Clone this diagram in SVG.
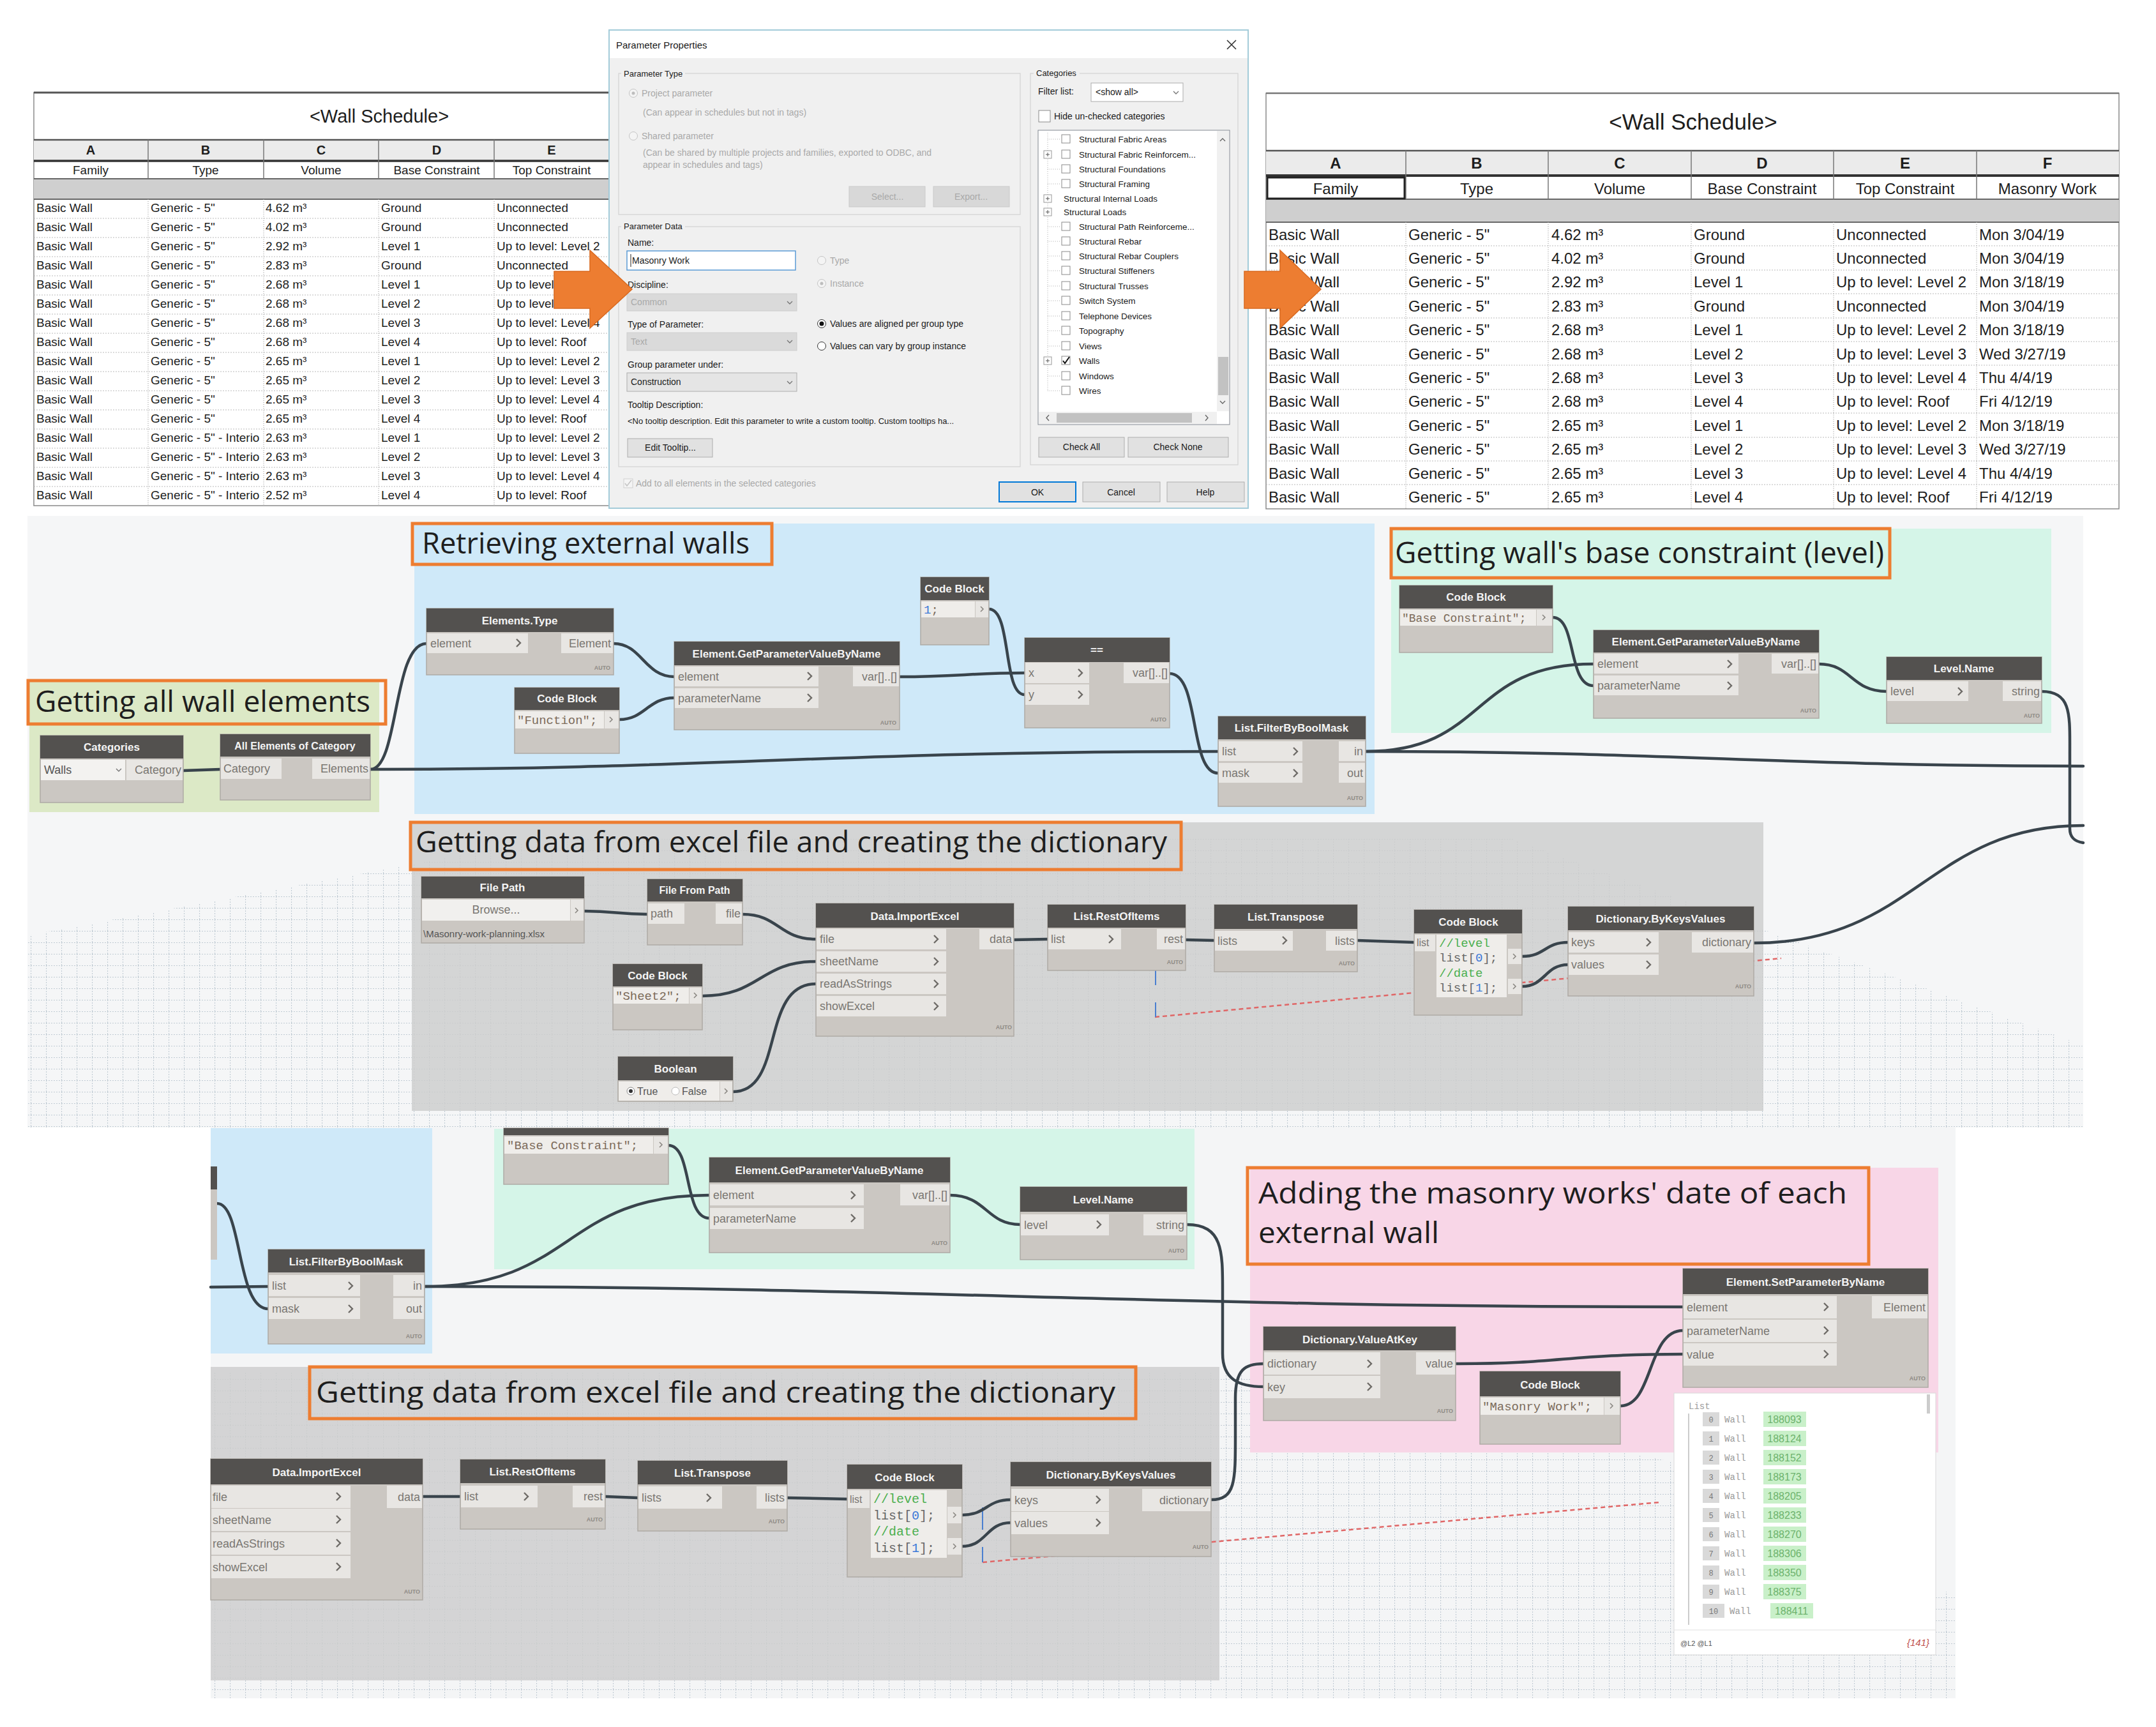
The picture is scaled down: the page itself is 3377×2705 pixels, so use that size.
<svg xmlns="http://www.w3.org/2000/svg" width="3377" height="2705" viewBox="0 0 3377 2705">
<defs>
<style>
.lt{font-family:"Liberation Sans",Arial,sans-serif;font-size:19px;fill:#1d1d1d}
.rt{font-family:"Liberation Sans",Arial,sans-serif;font-size:24px;fill:#1d1d1d}
.th{font-weight:bold;text-anchor:middle}
.tc{text-anchor:middle}
.dl{font-family:"Liberation Sans",Arial,sans-serif;font-size:14px;fill:#1a1a1a}
.dd{fill:#a9a9a9}
.btn{fill:#e1e1e1;stroke:#adadad;stroke-width:1}
.btnd{fill:#d8d8d8;stroke:#cacaca;stroke-width:1}
.gb{fill:none;stroke:#d2d2d2;stroke-width:1.2}
.cb{fill:#fff;stroke:#8a8a8a;stroke-width:1}
.sep{stroke:#b9b9b9;stroke-width:1.2;stroke-dasharray:2 2}
.vsep{stroke:#a6a6a6;stroke-width:1.2;stroke-dasharray:1 2}
.gt{font-family:"Open Sans","Liberation Sans",sans-serif;font-size:46px;fill:#1e1e1e}
.tbx{fill:none;stroke:#ED7D31;stroke-width:5}
.nb{fill:#cbc7c2;stroke:#aeaaa5;stroke-width:1.5}
.nh{fill:#53514f}
.nt{font-family:"Liberation Sans",Arial,sans-serif;font-weight:bold;font-size:17px;fill:#f4f4f4;text-anchor:middle}
.pb{fill:#e8e6e3}
.pl{font-family:"Liberation Sans",Arial,sans-serif;font-size:18px;fill:#7a7772}
.pr{font-family:"Liberation Sans",Arial,sans-serif;font-size:18px;fill:#7a7772;text-anchor:end}
.au{font-family:"Liberation Sans",Arial,sans-serif;font-size:9px;font-weight:bold;fill:#8f8b86;text-anchor:end}
.cbg{fill:#efedea}
.cd{font-family:"Liberation Mono","DejaVu Sans Mono",monospace;font-size:19px;fill:#7c6b5a}
.cm{fill:#4caf50}
.nm{fill:#3b78d8}
.w{fill:none;stroke:#39444c;stroke-width:4.5;stroke-linecap:round}
.wm{font-family:"Liberation Mono",monospace;font-size:14px;fill:#9a9a9a}
.wid{font-family:"Liberation Sans",Arial,sans-serif;font-size:16px;fill:#6db36d;text-anchor:middle}
.arrow{fill:#ED7D31;stroke:#d9691f;stroke-width:1.5}
</style>
<path id="cv" d="M-3,-6 L3,0 L-3,6" fill="none" stroke="#6e6b67" stroke-width="2.4"/>
<path id="cv2" d="M-2,-4 L2,0 L-2,4" fill="none" stroke="#8a8782" stroke-width="1.6"/>
<path id="dn" d="M-4,-2 L0,2 L4,-2" fill="none" stroke="#777" stroke-width="1.4"/>
<pattern id="gp" patternUnits="userSpaceOnUse" width="24" height="18">
<path d="M0 0.5H24M0.5 0V18" stroke="#a9b8c4" stroke-width="1.2" stroke-dasharray="2 2" fill="none"/>
</pattern>
</defs>
<rect x="0" y="0" width="3377" height="2705" fill="#ffffff"/>

<!-- LEFT SCHEDULE -->
<g id="left-schedule">
<rect x="53" y="145" width="901" height="647" fill="#fff" stroke="#8a8a8a" stroke-width="1.5"/>
<line x1="53" y1="145" x2="954" y2="145" stroke="#555" stroke-width="3"/>
<text class="lt tc" x="594" y="192" style="font-size:29px">&lt;Wall Schedule&gt;</text>
<rect x="53" y="219" width="901" height="33" fill="#ebebeb"/>
<line x1="53" y1="219" x2="954" y2="219" stroke="#555" stroke-width="2.5"/>
<line x1="53" y1="252" x2="954" y2="252" stroke="#333" stroke-width="3.5"/>
<rect x="53" y="280" width="901" height="32" fill="#cfcfcf"/>
<line x1="53" y1="280" x2="954" y2="280" stroke="#666" stroke-width="2"/>
<line x1="53" y1="312" x2="954" y2="312" stroke="#666" stroke-width="2"/>
<g stroke="#777" stroke-width="1.5">
<line x1="232" y1="219" x2="232" y2="280"/><line x1="413" y1="219" x2="413" y2="280"/><line x1="593" y1="219" x2="593" y2="280"/><line x1="774" y1="219" x2="774" y2="280"/>
</g>
<g class="vsep">
<line x1="232" y1="312" x2="232" y2="792"/><line x1="413" y1="312" x2="413" y2="792"/><line x1="593" y1="312" x2="593" y2="792"/><line x1="774" y1="312" x2="774" y2="792"/>
</g>
<g class="sep">
<line x1="53" y1="342" x2="954" y2="342"/><line x1="53" y1="372" x2="954" y2="372"/><line x1="53" y1="402" x2="954" y2="402"/><line x1="53" y1="432" x2="954" y2="432"/><line x1="53" y1="462" x2="954" y2="462"/><line x1="53" y1="492" x2="954" y2="492"/><line x1="53" y1="522" x2="954" y2="522"/><line x1="53" y1="552" x2="954" y2="552"/><line x1="53" y1="582" x2="954" y2="582"/><line x1="53" y1="612" x2="954" y2="612"/><line x1="53" y1="642" x2="954" y2="642"/><line x1="53" y1="672" x2="954" y2="672"/><line x1="53" y1="702" x2="954" y2="702"/><line x1="53" y1="732" x2="954" y2="732"/><line x1="53" y1="762" x2="954" y2="762"/>
</g>
<g class="lt th" style="font-size:20px">
<text x="142" y="242">A</text><text x="322" y="242">B</text><text x="503" y="242">C</text><text x="684" y="242">D</text><text x="864" y="242">E</text>
</g>
<g class="lt tc">
<text x="142" y="273">Family</text><text x="322" y="273">Type</text><text x="503" y="273">Volume</text><text x="684" y="273">Base Constraint</text><text x="864" y="273">Top Constraint</text>
</g>
<g class="lt">
<text x="57" y="332">Basic Wall</text><text x="236" y="332">Generic - 5"</text><text x="416" y="332">4.62 m³</text><text x="597" y="332">Ground</text><text x="778" y="332">Unconnected</text>
<text x="57" y="362">Basic Wall</text><text x="236" y="362">Generic - 5"</text><text x="416" y="362">4.02 m³</text><text x="597" y="362">Ground</text><text x="778" y="362">Unconnected</text>
<text x="57" y="392">Basic Wall</text><text x="236" y="392">Generic - 5"</text><text x="416" y="392">2.92 m³</text><text x="597" y="392">Level 1</text><text x="778" y="392">Up to level: Level 2</text>
<text x="57" y="422">Basic Wall</text><text x="236" y="422">Generic - 5"</text><text x="416" y="422">2.83 m³</text><text x="597" y="422">Ground</text><text x="778" y="422">Unconnected</text>
<text x="57" y="452">Basic Wall</text><text x="236" y="452">Generic - 5"</text><text x="416" y="452">2.68 m³</text><text x="597" y="452">Level 1</text><text x="778" y="452">Up to level: Level 2</text>
<text x="57" y="482">Basic Wall</text><text x="236" y="482">Generic - 5"</text><text x="416" y="482">2.68 m³</text><text x="597" y="482">Level 2</text><text x="778" y="482">Up to level: Level 3</text>
<text x="57" y="512">Basic Wall</text><text x="236" y="512">Generic - 5"</text><text x="416" y="512">2.68 m³</text><text x="597" y="512">Level 3</text><text x="778" y="512">Up to level: Level 4</text>
<text x="57" y="542">Basic Wall</text><text x="236" y="542">Generic - 5"</text><text x="416" y="542">2.68 m³</text><text x="597" y="542">Level 4</text><text x="778" y="542">Up to level: Roof</text>
<text x="57" y="572">Basic Wall</text><text x="236" y="572">Generic - 5"</text><text x="416" y="572">2.65 m³</text><text x="597" y="572">Level 1</text><text x="778" y="572">Up to level: Level 2</text>
<text x="57" y="602">Basic Wall</text><text x="236" y="602">Generic - 5"</text><text x="416" y="602">2.65 m³</text><text x="597" y="602">Level 2</text><text x="778" y="602">Up to level: Level 3</text>
<text x="57" y="632">Basic Wall</text><text x="236" y="632">Generic - 5"</text><text x="416" y="632">2.65 m³</text><text x="597" y="632">Level 3</text><text x="778" y="632">Up to level: Level 4</text>
<text x="57" y="662">Basic Wall</text><text x="236" y="662">Generic - 5"</text><text x="416" y="662">2.65 m³</text><text x="597" y="662">Level 4</text><text x="778" y="662">Up to level: Roof</text>
<text x="57" y="692">Basic Wall</text><text x="236" y="692">Generic - 5" - Interio</text><text x="416" y="692">2.63 m³</text><text x="597" y="692">Level 1</text><text x="778" y="692">Up to level: Level 2</text>
<text x="57" y="722">Basic Wall</text><text x="236" y="722">Generic - 5" - Interio</text><text x="416" y="722">2.63 m³</text><text x="597" y="722">Level 2</text><text x="778" y="722">Up to level: Level 3</text>
<text x="57" y="752">Basic Wall</text><text x="236" y="752">Generic - 5" - Interio</text><text x="416" y="752">2.63 m³</text><text x="597" y="752">Level 3</text><text x="778" y="752">Up to level: Level 4</text>
<text x="57" y="782">Basic Wall</text><text x="236" y="782">Generic - 5" - Interio</text><text x="416" y="782">2.52 m³</text><text x="597" y="782">Level 4</text><text x="778" y="782">Up to level: Roof</text>
</g>
</g>

<!-- DIALOG -->
<g id="parameter-dialog">
<rect x="954" y="47" width="1001" height="749" fill="#f0f0f0" stroke="#a3cbd9" stroke-width="2"/>
<rect x="955" y="48" width="999" height="43" fill="#fff"/>
<text class="dl" x="965" y="76" style="font-size:15px">Parameter Properties</text>
<path d="M1922,63 L1936,77 M1936,63 L1922,77" stroke="#333" stroke-width="1.6"/>
<rect class="gb" x="969" y="115" width="629" height="221"/>
<rect x="973" y="108" width="100" height="14" fill="#f0f0f0"/>
<text class="dl" x="977" y="120" style="font-size:13px">Parameter Type</text>
<circle cx="992" cy="146" r="6.5" fill="#f4f4f4" stroke="#c4c4c4"/><circle cx="992" cy="146" r="2.5" fill="#bdbdbd"/>
<text class="dl dd" x="1005" y="151">Project parameter</text>
<text class="dl dd" x="1007" y="181">(Can appear in schedules but not in tags)</text>
<circle cx="992" cy="213" r="6.5" fill="#f4f4f4" stroke="#c4c4c4"/>
<text class="dl dd" x="1005" y="218">Shared parameter</text>
<text class="dl dd" x="1007" y="244">(Can be shared by multiple projects and families, exported to ODBC, and</text>
<text class="dl dd" x="1007" y="263">appear in schedules and tags)</text>
<rect class="btnd" x="1330" y="292" width="119" height="32"/><text class="dl dd tc" x="1390" y="313">Select...</text>
<rect class="btnd" x="1462" y="292" width="119" height="32"/><text class="dl dd tc" x="1521" y="313">Export...</text>
<rect class="gb" x="969" y="355" width="629" height="376"/>
<rect x="973" y="348" width="100" height="14" fill="#f0f0f0"/>
<text class="dl" x="977" y="359" style="font-size:13px">Parameter Data</text>
<text class="dl" x="983" y="385">Name:</text>
<rect x="982" y="393" width="264" height="30" fill="#fff" stroke="#5b9bd5" stroke-width="1.5"/>
<line x1="988" y1="398" x2="988" y2="418" stroke="#222" stroke-width="1"/>
<text class="dl" x="990" y="413">Masonry Work</text>
<circle cx="1287" cy="408" r="6.5" fill="#f4f4f4" stroke="#c4c4c4"/>
<text class="dl dd" x="1300" y="413">Type</text>
<text class="dl" x="983" y="451">Discipline:</text>
<circle cx="1287" cy="444" r="6.5" fill="#f4f4f4" stroke="#c4c4c4"/><circle cx="1287" cy="444" r="2.5" fill="#bdbdbd"/>
<text class="dl dd" x="1300" y="449">Instance</text>
<rect x="982" y="460" width="266" height="27" fill="#dadada" stroke="#cdcdcd"/>
<text class="dl dd" x="988" y="478">Common</text><use href="#dn" x="1237" y="474"/>
<text class="dl" x="983" y="513">Type of Parameter:</text>
<circle cx="1287" cy="507" r="6.5" fill="#fff" stroke="#333"/><circle cx="1287" cy="507" r="3.5" fill="#111"/>
<text class="dl" x="1300" y="512">Values are aligned per group type</text>
<rect x="982" y="521" width="266" height="28" fill="#dadada" stroke="#cdcdcd"/>
<text class="dl dd" x="988" y="540">Text</text><use href="#dn" x="1237" y="535"/>
<circle cx="1287" cy="542" r="6.5" fill="#fff" stroke="#333"/>
<text class="dl" x="1300" y="547">Values can vary by group instance</text>
<text class="dl" x="983" y="576">Group parameter under:</text>
<rect x="982" y="584" width="266" height="29" fill="#e5e5e5" stroke="#acacac"/>
<text class="dl" x="988" y="603">Construction</text><use href="#dn" x="1237" y="599"/>
<text class="dl" x="983" y="639">Tooltip Description:</text>
<text class="dl" x="983" y="664" style="font-size:13px">&lt;No tooltip description. Edit this parameter to write a custom tooltip. Custom tooltips ha...</text>
<rect class="btn" x="983" y="687" width="133" height="29"/><text class="dl tc" x="1050" y="706">Edit Tooltip...</text>
<rect class="gb" x="1614" y="115" width="325" height="613"/>
<rect x="1619" y="108" width="72" height="14" fill="#f0f0f0"/>
<text class="dl" x="1623" y="119" style="font-size:13px">Categories</text>
<text class="dl" x="1626" y="148">Filter list:</text>
<rect x="1709" y="130" width="144" height="29" fill="#fff" stroke="#acacac"/>
<text class="dl" x="1716" y="149">&lt;show all&gt;</text><use href="#dn" x="1842" y="145"/>
<rect class="cb" x="1627" y="173" width="18" height="18" stroke="#333"/>
<text class="dl" x="1651" y="187">Hide un-checked categories</text>
<rect x="1626" y="204" width="300" height="461" fill="#fff" stroke="#828790"/>
<line x1="1641" y1="208" x2="1641" y2="612" stroke="#b0b0b0" stroke-dasharray="1 2"/>
<g stroke="#b0b0b0" stroke-dasharray="1 2">
<line x1="1641" y1="218" x2="1660" y2="218"/><line x1="1641" y1="265" x2="1660" y2="265"/><line x1="1641" y1="288" x2="1660" y2="288"/><line x1="1641" y1="355" x2="1660" y2="355"/><line x1="1641" y1="378" x2="1660" y2="378"/><line x1="1641" y1="401" x2="1660" y2="401"/><line x1="1641" y1="424" x2="1660" y2="424"/><line x1="1641" y1="448" x2="1660" y2="448"/><line x1="1641" y1="471" x2="1660" y2="471"/><line x1="1641" y1="495" x2="1660" y2="495"/><line x1="1641" y1="518" x2="1660" y2="518"/><line x1="1641" y1="542" x2="1660" y2="542"/><line x1="1641" y1="589" x2="1660" y2="589"/><line x1="1641" y1="612" x2="1660" y2="612"/>
</g>
<g fill="#fff" stroke="#999">
<rect x="1635" y="236" width="12" height="12"/><rect x="1635" y="305" width="12" height="12"/><rect x="1635" y="326" width="12" height="12"/><rect x="1635" y="559" width="12" height="12"/>
</g>
<path d="M1638,242 h6 M1641,239 v6 M1638,311 h6 M1641,308 v6 M1638,332 h6 M1641,329 v6 M1638,565 h6 M1641,562 v6" stroke="#555" stroke-width="1"/>
<g class="cb">
<rect x="1663" y="211" width="13" height="13"/><rect x="1663" y="235" width="13" height="13"/><rect x="1663" y="258" width="13" height="13"/><rect x="1663" y="281" width="13" height="13"/><rect x="1663" y="348" width="13" height="13"/><rect x="1663" y="371" width="13" height="13"/><rect x="1663" y="394" width="13" height="13"/><rect x="1663" y="417" width="13" height="13"/><rect x="1663" y="441" width="13" height="13"/><rect x="1663" y="464" width="13" height="13"/><rect x="1663" y="488" width="13" height="13"/><rect x="1663" y="511" width="13" height="13"/><rect x="1663" y="535" width="13" height="13"/><rect x="1663" y="558" width="13" height="13"/><rect x="1663" y="582" width="13" height="13"/><rect x="1663" y="605" width="13" height="13"/>
</g>
<path d="M1665,565 L1668,569 L1675,559" fill="none" stroke="#111" stroke-width="2"/>
<g class="dl" style="font-size:13.5px">
<text x="1690" y="223">Structural Fabric Areas</text>
<text x="1690" y="247">Structural Fabric Reinforcem...</text>
<text x="1690" y="270">Structural Foundations</text>
<text x="1690" y="293">Structural Framing</text>
<text x="1666" y="316">Structural Internal Loads</text>
<text x="1666" y="337">Structural Loads</text>
<text x="1690" y="360">Structural Path Reinforceme...</text>
<text x="1690" y="383">Structural Rebar</text>
<text x="1690" y="406">Structural Rebar Couplers</text>
<text x="1690" y="429">Structural Stiffeners</text>
<text x="1690" y="453">Structural Trusses</text>
<text x="1690" y="476">Switch System</text>
<text x="1690" y="500">Telephone Devices</text>
<text x="1690" y="523">Topography</text>
<text x="1690" y="547">Views</text>
<text x="1690" y="570">Walls</text>
<text x="1690" y="594">Windows</text>
<text x="1690" y="617">Wires</text>
</g>
<rect x="1906" y="205" width="19" height="439" fill="#f0f0f0"/>
<rect x="1908" y="559" width="16" height="60" fill="#c2c2c2"/>
<path d="M1911,221 l4,-4 l4,4 M1911,628 l4,4 l4,-4" fill="none" stroke="#666" stroke-width="1.4"/>
<rect x="1627" y="645" width="279" height="19" fill="#f0f0f0"/>
<rect x="1655" y="647" width="212" height="15" fill="#c2c2c2"/>
<path d="M1643,650 l-4,4.5 l4,4.5 M1888,650 l4,4.5 l-4,4.5" fill="none" stroke="#666" stroke-width="1.4"/>
<rect class="btn" x="1627" y="685" width="134" height="31"/><text class="dl tc" x="1694" y="705">Check All</text>
<rect class="btn" x="1767" y="685" width="157" height="31"/><text class="dl tc" x="1845" y="705">Check None</text>
<rect x="977" y="750" width="14" height="14" fill="#f4f4f4" stroke="#cfcfcf"/>
<path d="M979,757 l3,4 l7,-9" fill="none" stroke="#c4c4c4" stroke-width="1.5"/>
<text class="dl dd" x="996" y="762">Add to all elements in the selected categories</text>
<rect x="1565" y="755" width="120" height="31" fill="#e1e1e1" stroke="#0078d7" stroke-width="2"/><text class="dl tc" x="1625" y="776">OK</text>
<rect class="btn" x="1696" y="755" width="121" height="31"/><text class="dl tc" x="1756" y="776">Cancel</text>
<rect class="btn" x="1828" y="755" width="121" height="31"/><text class="dl tc" x="1888" y="776">Help</text>
</g>

<!-- RIGHT SCHEDULE -->
<g id="right-schedule">
<rect x="1983" y="146" width="1336" height="651" fill="#fff" stroke="#8a8a8a" stroke-width="1.5"/>
<line x1="1983" y1="146" x2="3319" y2="146" stroke="#777" stroke-width="2.5"/>
<text class="rt tc" x="2652" y="203" style="font-size:35px">&lt;Wall Schedule&gt;</text>
<rect x="1983" y="236" width="1336" height="39" fill="#ebebeb"/>
<line x1="1983" y1="236" x2="3319" y2="236" stroke="#555" stroke-width="2.5"/>
<line x1="1983" y1="275" x2="3319" y2="275" stroke="#333" stroke-width="4"/>
<rect x="1983" y="312" width="1336" height="36" fill="#cfcfcf"/>
<line x1="1983" y1="312" x2="3319" y2="312" stroke="#666" stroke-width="2"/>
<line x1="1983" y1="348" x2="3319" y2="348" stroke="#666" stroke-width="2"/>
<g stroke="#777" stroke-width="1.5">
<line x1="2202" y1="236" x2="2202" y2="312"/><line x1="2425" y1="236" x2="2425" y2="312"/><line x1="2649" y1="236" x2="2649" y2="312"/><line x1="2872" y1="236" x2="2872" y2="312"/><line x1="3096" y1="236" x2="3096" y2="312"/>
</g>
<rect x="1985" y="278" width="215" height="33" fill="none" stroke="#222" stroke-width="3"/>
<g class="vsep">
<line x1="2202" y1="348" x2="2202" y2="797"/><line x1="2425" y1="348" x2="2425" y2="797"/><line x1="2649" y1="348" x2="2649" y2="797"/><line x1="2872" y1="348" x2="2872" y2="797"/><line x1="3096" y1="348" x2="3096" y2="797"/>
</g>
<g class="sep">
<line x1="1983" y1="385" x2="3319" y2="385"/><line x1="1983" y1="423" x2="3319" y2="423"/><line x1="1983" y1="460" x2="3319" y2="460"/><line x1="1983" y1="498" x2="3319" y2="498"/><line x1="1983" y1="535" x2="3319" y2="535"/><line x1="1983" y1="572" x2="3319" y2="572"/><line x1="1983" y1="610" x2="3319" y2="610"/><line x1="1983" y1="647" x2="3319" y2="647"/><line x1="1983" y1="685" x2="3319" y2="685"/><line x1="1983" y1="722" x2="3319" y2="722"/><line x1="1983" y1="759" x2="3319" y2="759"/>
</g>
<g class="rt th">
<text x="2092" y="264">A</text><text x="2313" y="264">B</text><text x="2537" y="264">C</text><text x="2760" y="264">D</text><text x="2984" y="264">E</text><text x="3207" y="264">F</text>
</g>
<g class="rt tc">
<text x="2092" y="304">Family</text><text x="2313" y="304">Type</text><text x="2537" y="304">Volume</text><text x="2760" y="304">Base Constraint</text><text x="2984" y="304">Top Constraint</text><text x="3207" y="304">Masonry Work</text>
</g>
<g class="rt">
<text x="1987" y="376">Basic Wall</text><text x="2206" y="376">Generic - 5"</text><text x="2430" y="376">4.62 m³</text><text x="2653" y="376">Ground</text><text x="2876" y="376">Unconnected</text><text x="3100" y="376">Mon 3/04/19</text>
<text x="1987" y="413">Basic Wall</text><text x="2206" y="413">Generic - 5"</text><text x="2430" y="413">4.02 m³</text><text x="2653" y="413">Ground</text><text x="2876" y="413">Unconnected</text><text x="3100" y="413">Mon 3/04/19</text>
<text x="1987" y="450">Basic Wall</text><text x="2206" y="450">Generic - 5"</text><text x="2430" y="450">2.92 m³</text><text x="2653" y="450">Level 1</text><text x="2876" y="450">Up to level: Level 2</text><text x="3100" y="450">Mon 3/18/19</text>
<text x="1987" y="488">Basic Wall</text><text x="2206" y="488">Generic - 5"</text><text x="2430" y="488">2.83 m³</text><text x="2653" y="488">Ground</text><text x="2876" y="488">Unconnected</text><text x="3100" y="488">Mon 3/04/19</text>
<text x="1987" y="525">Basic Wall</text><text x="2206" y="525">Generic - 5"</text><text x="2430" y="525">2.68 m³</text><text x="2653" y="525">Level 1</text><text x="2876" y="525">Up to level: Level 2</text><text x="3100" y="525">Mon 3/18/19</text>
<text x="1987" y="563">Basic Wall</text><text x="2206" y="563">Generic - 5"</text><text x="2430" y="563">2.68 m³</text><text x="2653" y="563">Level 2</text><text x="2876" y="563">Up to level: Level 3</text><text x="3100" y="563">Wed 3/27/19</text>
<text x="1987" y="600">Basic Wall</text><text x="2206" y="600">Generic - 5"</text><text x="2430" y="600">2.68 m³</text><text x="2653" y="600">Level 3</text><text x="2876" y="600">Up to level: Level 4</text><text x="3100" y="600">Thu 4/4/19</text>
<text x="1987" y="637">Basic Wall</text><text x="2206" y="637">Generic - 5"</text><text x="2430" y="637">2.68 m³</text><text x="2653" y="637">Level 4</text><text x="2876" y="637">Up to level: Roof</text><text x="3100" y="637">Fri 4/12/19</text>
<text x="1987" y="675">Basic Wall</text><text x="2206" y="675">Generic - 5"</text><text x="2430" y="675">2.65 m³</text><text x="2653" y="675">Level 1</text><text x="2876" y="675">Up to level: Level 2</text><text x="3100" y="675">Mon 3/18/19</text>
<text x="1987" y="712">Basic Wall</text><text x="2206" y="712">Generic - 5"</text><text x="2430" y="712">2.65 m³</text><text x="2653" y="712">Level 2</text><text x="2876" y="712">Up to level: Level 3</text><text x="3100" y="712">Wed 3/27/19</text>
<text x="1987" y="750">Basic Wall</text><text x="2206" y="750">Generic - 5"</text><text x="2430" y="750">2.65 m³</text><text x="2653" y="750">Level 3</text><text x="2876" y="750">Up to level: Level 4</text><text x="3100" y="750">Thu 4/4/19</text>
<text x="1987" y="787">Basic Wall</text><text x="2206" y="787">Generic - 5"</text><text x="2430" y="787">2.65 m³</text><text x="2653" y="787">Level 4</text><text x="2876" y="787">Up to level: Roof</text><text x="3100" y="787">Fri 4/12/19</text>
</g>
</g>

<g id="arrows">
<polygon class="arrow" points="868,425 924,425 924,392 990,453 924,514 924,483 868,483"/>
<polygon class="arrow" points="1949,425 2005,425 2005,392 2069,453 2005,514 2005,483 1949,483"/>
</g>

<!-- DYNAMO BACKGROUNDS -->
<g id="canvas">
<rect x="43" y="808" width="3220" height="958" fill="#f5f6f7"/>
<rect x="330" y="1766" width="2733" height="894" fill="#f4f5f6"/>
<polygon points="43,1465 861,1314 2369,1314 3263,1637 3263,1766 43,1766" fill="url(#gp)" opacity="0.7"/>
<polygon points="330,2150 1960,2150 2620,2290 3063,2500 3063,2660 330,2660" fill="url(#gp)" opacity="0.7"/>
</g>

<!-- GROUPS -->
<g id="group-all-walls">
<rect x="46" y="1066" width="548" height="206" fill="#dce9c6"/>
<rect class="tbx" x="44" y="1066" width="560" height="68"/>
<text class="gt" x="55" y="1115" textLength="525" lengthAdjust="spacingAndGlyphs">Getting all wall elements</text>
</g>
<g id="group-external-walls">
<rect x="649" y="820" width="1504" height="455" fill="#cfe9f9"/>
<rect class="tbx" x="646" y="820" width="563" height="64"/>
<text class="gt" x="661" y="867" textLength="513" lengthAdjust="spacingAndGlyphs">Retrieving external walls</text>
</g>
<g id="group-base-constraint">
<rect x="2179" y="828" width="1034" height="320" fill="#d5f5e8"/>
<rect class="tbx" x="2179" y="828" width="781" height="77"/>
<text class="gt" x="2185" y="882" textLength="766" lengthAdjust="spacingAndGlyphs">Getting wall's base constraint (level)</text>
</g>
<g id="group-excel-top">
<rect x="645" y="1288" width="2117" height="452" fill="#cdcdcd" opacity="0.82"/>
<rect class="tbx" x="643" y="1288" width="1207" height="74"/>
<text class="gt" x="651" y="1335" textLength="1177" lengthAdjust="spacingAndGlyphs">Getting data from excel file and creating the dictionary</text>
</g>
<g id="group-bottom-blue"><rect x="330" y="1767" width="347" height="353" fill="#cfe9f9"/></g>
<g id="group-bottom-mint"><rect x="774" y="1768" width="1097" height="220" fill="#d5f5e8"/></g>
<g id="group-excel-bottom">
<rect x="330" y="2141" width="1580" height="491" fill="#cdcdcd" opacity="0.82"/>
<rect class="tbx" x="485" y="2141" width="1294" height="81"/>
<text class="gt" x="495" y="2197" textLength="1252" lengthAdjust="spacingAndGlyphs">Getting data from excel file and creating the dictionary</text>
</g>
<g id="group-masonry">
<rect x="1958" y="1829" width="1078" height="446" fill="#f8d6e7"/>
<rect class="tbx" x="1954" y="1829" width="973" height="151"/>
<text class="gt" x="1971" y="1885" textLength="922" lengthAdjust="spacingAndGlyphs">Adding the masonry works' date of each</text>
<text class="gt" x="1971" y="1947" textLength="283" lengthAdjust="spacingAndGlyphs">external wall</text>
</g>

<g id="guides">
<path d="M1809,1593 L2790,1501 M1539,2447 L2600,2353" stroke="#e06666" stroke-width="2.5" stroke-dasharray="7 5" fill="none"/>
<path d="M1810,1513 V1543 M1810,1570 V1593 M1539,2361 V2396 M1539,2423 V2447" stroke="#4a7fd0" stroke-width="2" fill="none"/>
</g>

<!-- CONNECTORS -->
<g id="connectors">
<path class="w" d="M287,1207 L345,1205"/>
<path class="w" d="M580,1205 C625,1205 615,1008 668,1008"/>
<path class="w" d="M580,1205 C1100,1205 1300,1177 1908,1177"/>
<path class="w" d="M961,1008 C1005,1008 1010,1060 1056,1060"/>
<path class="w" d="M970,1127 C1010,1127 1015,1093 1056,1093"/>
<path class="w" d="M1409,1060 C1500,1060 1520,1054 1605,1054"/>
<path class="w" d="M1549,954 C1585,954 1570,1088 1605,1088"/>
<path class="w" d="M1832,1055 C1880,1055 1862,1211 1908,1211"/>
<path class="w" d="M2139,1177 C2330,1177 2300,1040 2496,1040"/>
<path class="w" d="M2139,1177 C2600,1177 2800,1200 3263,1200"/>
<path class="w" d="M2432,967 C2470,967 2455,1074 2496,1074"/>
<path class="w" d="M2849,1040 C2900,1040 2900,1083 2955,1083"/>
<path class="w" d="M3198,1083 C3245,1083 3242,1120 3242,1180 L3242,1298 C3242,1312 3250,1318 3263,1320"/>
<path class="w" d="M915,1427 C965,1427 965,1432 1014,1432"/>
<path class="w" d="M1163,1432 C1220,1432 1220,1471 1278,1471"/>
<path class="w" d="M1100,1560 C1190,1560 1190,1506 1278,1506"/>
<path class="w" d="M1148,1710 C1230,1710 1190,1541 1278,1541"/>
<path class="w" d="M1588,1472 L1641,1471"/>
<path class="w" d="M1857,1472 L1902,1473"/>
<path class="w" d="M2126,1473 L2215,1476"/>
<path class="w" d="M2384,1498 C2420,1498 2420,1476 2456,1476"/>
<path class="w" d="M2384,1545 C2420,1545 2420,1511 2456,1511"/>
<path class="w" d="M2747,1477 C3000,1477 3020,1293 3263,1293"/>
<path class="w" d="M340,1885 C380,1885 370,2050 420,2050"/>
<path class="w" d="M330,2016 L420,2015"/>
<path class="w" d="M665,2015 C900,2015 880,1872 1111,1872"/>
<path class="w" d="M665,2015 C1400,2015 1800,2047 2636,2047"/>
<path class="w" d="M1047,1794 C1085,1794 1070,1908 1111,1908"/>
<path class="w" d="M1488,1872 C1545,1872 1545,1918 1598,1918"/>
<path class="w" d="M1859,1918 C1915,1918 1915,1960 1915,2020 L1915,2120 C1915,2160 1940,2172 1979,2172"/>
<path class="w" d="M1897,2349 C1935,2349 1935,2320 1935,2250 L1935,2190 C1935,2145 1950,2136 1979,2136"/>
<path class="w" d="M2280,2136 C2450,2136 2450,2121 2636,2121"/>
<path class="w" d="M2538,2202 C2590,2202 2580,2084 2636,2084"/>
<path class="w" d="M662,2344 L721,2344"/>
<path class="w" d="M948,2344 L999,2346"/>
<path class="w" d="M1233,2346 L1327,2348"/>
<path class="w" d="M1507,2373 C1545,2373 1545,2349 1583,2349"/>
<path class="w" d="M1507,2422 C1545,2422 1545,2385 1583,2385"/>
</g>

<!-- NODES TOP -->
<g id="n-categories">
<rect class="nb" x="63" y="1152" width="224" height="105"/><rect class="nh" x="63" y="1152" width="224" height="36"/>
<text class="nt" x="175" y="1176">Categories</text>
<rect x="64" y="1190" width="132" height="32" fill="#f3f2f0"/><text class="pl" x="69" y="1212" style="fill:#555">Walls</text><use href="#dn" x="186" y="1206"/>
<rect class="pb" x="198" y="1190" width="88" height="32"/><text class="pr" x="284" y="1212">Category</text>
</g>
<g id="n-all-elements">
<rect class="nb" x="345" y="1150" width="235" height="103"/><rect class="nh" x="345" y="1150" width="235" height="35"/>
<text class="nt" x="462" y="1174" style="font-size:16px">All Elements of Category</text>
<rect class="pb" x="346" y="1188" width="95" height="32"/><text class="pl" x="350" y="1210">Category</text>
<rect class="pb" x="489" y="1188" width="90" height="32"/><text class="pr" x="577" y="1210">Elements</text>
</g>
<g id="n-elements-type">
<rect class="nb" x="668" y="953" width="293" height="104"/><rect class="nh" x="668" y="953" width="293" height="37"/>
<text class="nt" x="814" y="978">Elements.Type</text>
<rect class="pb" x="669" y="992" width="158" height="31"/><text class="pl" x="674" y="1014">element</text><use href="#cv" x="812" y="1007"/>
<rect class="pb" x="879" y="992" width="81" height="31"/><text class="pr" x="957" y="1014">Element</text>
<text class="au" x="956" y="1049">AUTO</text>
</g>
<g id="n-code-function">
<rect class="nb" x="806" y="1077" width="164" height="103"/><rect class="nh" x="806" y="1077" width="164" height="35"/>
<text class="nt" x="888" y="1100">Code Block</text>
<rect class="cbg" x="807" y="1114" width="139" height="27"/><text class="cd" x="810" y="1134">"Function";</text>
<rect class="pb" x="947" y="1114" width="22" height="27"/><use href="#cv2" x="957" y="1127"/>
</g>
<g id="n-getparam-1">
<rect class="nb" x="1056" y="1005" width="353" height="138"/><rect class="nh" x="1056" y="1005" width="353" height="37"/>
<text class="nt" x="1232" y="1030">Element.GetParameterValueByName</text>
<rect class="pb" x="1057" y="1044" width="225" height="31"/><text class="pl" x="1062" y="1066">element</text><use href="#cv" x="1268" y="1059"/>
<rect class="pb" x="1057" y="1078" width="225" height="31"/><text class="pl" x="1062" y="1100">parameterName</text><use href="#cv" x="1268" y="1093"/>
<rect class="pb" x="1336" y="1044" width="72" height="31"/><text class="pr" x="1405" y="1066">var[]..[]</text>
<text class="au" x="1404" y="1135">AUTO</text>
</g>
<g id="n-code-1">
<rect class="nb" x="1442" y="904" width="107" height="106"/><rect class="nh" x="1442" y="904" width="107" height="36"/>
<text class="nt" x="1495" y="928">Code Block</text>
<rect class="cbg" x="1443" y="942" width="84" height="25"/><text class="cd" x="1447" y="961"><tspan class="nm">1</tspan>;</text>
<rect class="pb" x="1528" y="942" width="20" height="25"/><use href="#cv2" x="1538" y="954"/>
</g>
<g id="n-equals">
<rect class="nb" x="1605" y="999" width="227" height="141"/><rect class="nh" x="1605" y="999" width="227" height="38"/>
<text class="nt" x="1718" y="1024">==</text>
<rect class="pb" x="1606" y="1038" width="100" height="32"/><text class="pl" x="1611" y="1060">x</text><use href="#cv" x="1692" y="1054"/>
<rect class="pb" x="1606" y="1072" width="100" height="32"/><text class="pl" x="1611" y="1094">y</text><use href="#cv" x="1692" y="1088"/>
<rect class="pb" x="1760" y="1038" width="71" height="32"/><text class="pr" x="1829" y="1060">var[]..[]</text>
<text class="au" x="1827" y="1130">AUTO</text>
</g>
<g id="n-filter-1">
<rect class="nb" x="1908" y="1122" width="231" height="141"/><rect class="nh" x="1908" y="1122" width="231" height="36"/>
<text class="nt" x="2023" y="1146">List.FilterByBoolMask</text>
<rect class="pb" x="1909" y="1161" width="131" height="31"/><text class="pl" x="1914" y="1183">list</text><use href="#cv" x="2029" y="1177"/>
<rect class="pb" x="1909" y="1195" width="131" height="31"/><text class="pl" x="1914" y="1217">mask</text><use href="#cv" x="2029" y="1211"/>
<rect class="pb" x="2097" y="1161" width="41" height="31"/><text class="pr" x="2135" y="1183">in</text>
<rect class="pb" x="2097" y="1195" width="41" height="31"/><text class="pr" x="2135" y="1217">out</text>
<text class="au" x="2135" y="1253">AUTO</text>
</g>
<g id="n-code-base-1">
<rect class="nb" x="2192" y="917" width="240" height="105"/><rect class="nh" x="2192" y="917" width="240" height="36"/>
<text class="nt" x="2312" y="941">Code Block</text>
<rect class="cbg" x="2193" y="955" width="213" height="25"/><text class="cd" x="2196" y="974" style="font-size:18px">"Base Constraint";</text>
<rect class="pb" x="2407" y="955" width="24" height="25"/><use href="#cv2" x="2418" y="967"/>
</g>
<g id="n-getparam-2">
<rect class="nb" x="2496" y="987" width="353" height="138"/><rect class="nh" x="2496" y="987" width="353" height="35"/>
<text class="nt" x="2672" y="1011">Element.GetParameterValueByName</text>
<rect class="pb" x="2497" y="1024" width="226" height="31"/><text class="pl" x="2502" y="1046">element</text><use href="#cv" x="2709" y="1040"/>
<rect class="pb" x="2497" y="1058" width="226" height="31"/><text class="pl" x="2502" y="1080">parameterName</text><use href="#cv" x="2709" y="1074"/>
<rect class="pb" x="2775" y="1024" width="73" height="31"/><text class="pr" x="2845" y="1046">var[]..[]</text>
<text class="au" x="2845" y="1116">AUTO</text>
</g>
<g id="n-level-name-1">
<rect class="nb" x="2955" y="1029" width="243" height="104"/><rect class="nh" x="2955" y="1029" width="243" height="36"/>
<text class="nt" x="3076" y="1053">Level.Name</text>
<rect class="pb" x="2956" y="1067" width="127" height="31"/><text class="pl" x="2961" y="1089">level</text><use href="#cv" x="3070" y="1083"/>
<rect class="pb" x="3137" y="1067" width="60" height="31"/><text class="pr" x="3195" y="1089">string</text>
<text class="au" x="3195" y="1124">AUTO</text>
</g>
<g id="n-file-path">
<rect class="nb" x="660" y="1373" width="255" height="104"/><rect class="nh" x="660" y="1373" width="255" height="34"/>
<text class="nt" x="787" y="1396">File Path</text>
<rect x="661" y="1409" width="232" height="33" fill="#f1f0ee"/><text class="pl" x="777" y="1431" text-anchor="middle">Browse...</text>
<rect class="pb" x="894" y="1409" width="20" height="33"/><use href="#cv2" x="903" y="1426"/>
<text class="pl" x="663" y="1468" style="font-size:15px;fill:#555">\Masonry-work-planning.xlsx</text>
</g>
<g id="n-file-from-path">
<rect class="nb" x="1014" y="1377" width="149" height="103"/><rect class="nh" x="1014" y="1377" width="149" height="35"/>
<text class="nt" x="1088" y="1400" style="font-size:16px">File From Path</text>
<rect class="pb" x="1015" y="1415" width="57" height="32"/><text class="pl" x="1019" y="1437">path</text>
<rect class="pb" x="1121" y="1415" width="41" height="32"/><text class="pr" x="1160" y="1437">file</text>
</g>
<g id="n-import-excel-1">
<rect class="nb" x="1278" y="1415" width="310" height="208"/><rect class="nh" x="1278" y="1415" width="310" height="38"/>
<text class="nt" x="1433" y="1441">Data.ImportExcel</text>
<rect class="pb" x="1279" y="1455" width="203" height="32"/><text class="pl" x="1284" y="1477">file</text><use href="#cv" x="1466" y="1471"/>
<rect class="pb" x="1279" y="1490" width="203" height="32"/><text class="pl" x="1284" y="1512">sheetName</text><use href="#cv" x="1466" y="1506"/>
<rect class="pb" x="1279" y="1525" width="203" height="32"/><text class="pl" x="1284" y="1547">readAsStrings</text><use href="#cv" x="1466" y="1541"/>
<rect class="pb" x="1279" y="1560" width="203" height="32"/><text class="pl" x="1284" y="1582">showExcel</text><use href="#cv" x="1466" y="1576"/>
<rect class="pb" x="1534" y="1455" width="53" height="32"/><text class="pr" x="1585" y="1477">data</text>
<text class="au" x="1585" y="1612">AUTO</text>
</g>
<g id="n-code-sheet2">
<rect class="nb" x="960" y="1510" width="140" height="103"/><rect class="nh" x="960" y="1510" width="140" height="35"/>
<text class="nt" x="1030" y="1534">Code Block</text>
<rect class="cbg" x="961" y="1547" width="118" height="25"/><text class="cd" x="964" y="1566">"Sheet2";</text>
<rect class="pb" x="1080" y="1547" width="19" height="25"/><use href="#cv2" x="1089" y="1559"/>
</g>
<g id="n-boolean">
<rect class="nb" x="968" y="1655" width="180" height="70"/><rect class="nh" x="968" y="1655" width="180" height="37"/>
<text class="nt" x="1058" y="1680">Boolean</text>
<rect class="cbg" x="969" y="1694" width="158" height="30"/>
<circle cx="988" cy="1709" r="6" fill="#fff" stroke="#888"/><circle cx="988" cy="1709" r="3" fill="#333"/>
<text class="pl" x="998" y="1715" style="font-size:16px;fill:#555">True</text>
<circle cx="1058" cy="1709" r="6" fill="#fff" stroke="#bbb"/>
<text class="pl" x="1068" y="1715" style="font-size:16px;fill:#555">False</text>
<rect class="pb" x="1128" y="1694" width="19" height="30"/><use href="#cv2" x="1137" y="1709"/>
</g>
<g id="n-rest-1">
<rect class="nb" x="1641" y="1417" width="216" height="103"/><rect class="nh" x="1641" y="1417" width="216" height="36"/>
<text class="nt" x="1749" y="1441">List.RestOfItems</text>
<rect class="pb" x="1642" y="1455" width="114" height="32"/><text class="pl" x="1646" y="1477">list</text><use href="#cv" x="1740" y="1471"/>
<rect class="pb" x="1812" y="1455" width="44" height="32"/><text class="pr" x="1853" y="1477">rest</text>
<text class="au" x="1853" y="1510">AUTO</text>
</g>
<g id="n-transpose-1">
<rect class="nb" x="1902" y="1417" width="224" height="105"/><rect class="nh" x="1902" y="1417" width="224" height="38"/>
<text class="nt" x="2014" y="1442">List.Transpose</text>
<rect class="pb" x="1903" y="1458" width="122" height="31"/><text class="pl" x="1907" y="1480">lists</text><use href="#cv" x="2012" y="1473"/>
<rect class="pb" x="2077" y="1458" width="48" height="31"/><text class="pr" x="2122" y="1480">lists</text>
<text class="au" x="2122" y="1512">AUTO</text>
</g>
<g id="n-code-dict-1">
<rect class="nb" x="2215" y="1425" width="169" height="165"/><rect class="nh" x="2215" y="1425" width="169" height="37"/>
<text class="nt" x="2300" y="1450">Code Block</text>
<rect class="pb" x="2216" y="1464" width="32" height="26"/><text class="pl" x="2219" y="1482" style="font-size:16px">list</text>
<rect class="cbg" x="2250" y="1464" width="110" height="98"/>
<text class="cd cm" x="2254" y="1483">//level</text>
<text class="cd" x="2254" y="1506" style="fill:#666">list[<tspan class="nm">0</tspan>];</text>
<text class="cd cm" x="2254" y="1530">//date</text>
<text class="cd" x="2254" y="1553" style="fill:#666">list[<tspan class="nm">1</tspan>];</text>
<rect class="pb" x="2362" y="1486" width="21" height="24"/><use href="#cv2" x="2372" y="1498"/>
<rect class="pb" x="2362" y="1533" width="21" height="24"/><use href="#cv2" x="2372" y="1545"/>
</g>
<g id="n-dict-1">
<rect class="nb" x="2456" y="1420" width="291" height="140"/><rect class="nh" x="2456" y="1420" width="291" height="37"/>
<text class="nt" x="2601" y="1445">Dictionary.ByKeysValues</text>
<rect class="pb" x="2457" y="1460" width="141" height="32"/><text class="pl" x="2461" y="1482">keys</text><use href="#cv" x="2582" y="1476"/>
<rect class="pb" x="2457" y="1495" width="141" height="32"/><text class="pl" x="2461" y="1517">values</text><use href="#cv" x="2582" y="1511"/>
<rect class="pb" x="2650" y="1460" width="96" height="32"/><text class="pr" x="2743" y="1482">dictionary</text>
<text class="au" x="2743" y="1548">AUTO</text>
</g>

<!-- NODES BOTTOM -->
<g id="n-equals-partial">
<rect class="nh" x="330" y="1827" width="10" height="36"/><rect x="330" y="1863" width="10" height="110" fill="#cbc7c2"/>
</g>
<g id="n-filter-2">
<rect class="nb" x="420" y="1957" width="245" height="148"/><rect class="nh" x="420" y="1957" width="245" height="36"/>
<text class="nt" x="542" y="1982">List.FilterByBoolMask</text>
<rect class="pb" x="421" y="1997" width="143" height="33"/><text class="pl" x="426" y="2020">list</text><use href="#cv" x="549" y="2014"/>
<rect class="pb" x="421" y="2033" width="143" height="33"/><text class="pl" x="426" y="2056">mask</text><use href="#cv" x="549" y="2050"/>
<rect class="pb" x="616" y="1997" width="48" height="33"/><text class="pr" x="661" y="2020">in</text>
<rect class="pb" x="616" y="2033" width="48" height="33"/><text class="pr" x="661" y="2056">out</text>
<text class="au" x="661" y="2096">AUTO</text>
</g>
<g id="n-code-base-2">
<rect class="nb" x="789" y="1767" width="258" height="88"/><rect class="nh" x="789" y="1767" width="258" height="11"/>
<rect class="cbg" x="790" y="1780" width="233" height="27"/><text class="cd" x="794" y="1800">"Base Constraint";</text>
<rect class="pb" x="1024" y="1780" width="22" height="27"/><use href="#cv2" x="1035" y="1793"/>
</g>
<g id="n-getparam-3">
<rect class="nb" x="1111" y="1813" width="377" height="149"/><rect class="nh" x="1111" y="1813" width="377" height="39"/>
<text class="nt" x="1299" y="1839">Element.GetParameterValueByName</text>
<rect class="pb" x="1112" y="1855" width="241" height="33"/><text class="pl" x="1117" y="1878">element</text><use href="#cv" x="1336" y="1872"/>
<rect class="pb" x="1112" y="1892" width="241" height="33"/><text class="pl" x="1117" y="1915">parameterName</text><use href="#cv" x="1336" y="1908"/>
<rect class="pb" x="1410" y="1855" width="77" height="33"/><text class="pr" x="1484" y="1878">var[]..[]</text>
<text class="au" x="1484" y="1950">AUTO</text>
</g>
<g id="n-level-name-2">
<rect class="nb" x="1598" y="1859" width="261" height="114"/><rect class="nh" x="1598" y="1859" width="261" height="39"/>
<text class="nt" x="1728" y="1885">Level.Name</text>
<rect class="pb" x="1599" y="1902" width="138" height="33"/><text class="pl" x="1604" y="1925">level</text><use href="#cv" x="1721" y="1918"/>
<rect class="pb" x="1791" y="1902" width="67" height="33"/><text class="pr" x="1855" y="1925">string</text>
<text class="au" x="1855" y="1962">AUTO</text>
</g>
<g id="n-set-param">
<rect class="nb" x="2636" y="1987" width="384" height="186"/><rect class="nh" x="2636" y="1987" width="384" height="40"/>
<text class="nt" x="2828" y="2014">Element.SetParameterByName</text>
<rect class="pb" x="2637" y="2030" width="240" height="35"/><text class="pl" x="2642" y="2054">element</text><use href="#cv" x="2860" y="2047"/>
<rect class="pb" x="2637" y="2067" width="240" height="35"/><text class="pl" x="2642" y="2091">parameterName</text><use href="#cv" x="2860" y="2084"/>
<rect class="pb" x="2637" y="2104" width="240" height="35"/><text class="pl" x="2642" y="2128">value</text><use href="#cv" x="2860" y="2121"/>
<rect class="pb" x="2932" y="2030" width="87" height="35"/><text class="pr" x="3016" y="2054">Element</text>
<text class="au" x="3016" y="2162">AUTO</text>
</g>
<g id="n-value-at-key">
<rect class="nb" x="1979" y="2078" width="301" height="147"/><rect class="nh" x="1979" y="2078" width="301" height="37"/>
<text class="nt" x="2130" y="2104">Dictionary.ValueAtKey</text>
<rect class="pb" x="1980" y="2118" width="182" height="35"/><text class="pl" x="1985" y="2142">dictionary</text><use href="#cv" x="2145" y="2136"/>
<rect class="pb" x="1980" y="2155" width="182" height="35"/><text class="pl" x="1985" y="2179">key</text><use href="#cv" x="2145" y="2172"/>
<rect class="pb" x="2218" y="2118" width="61" height="35"/><text class="pr" x="2276" y="2142">value</text>
<text class="au" x="2276" y="2213">AUTO</text>
</g>
<g id="n-code-masonry">
<rect class="nb" x="2318" y="2148" width="220" height="114"/><rect class="nh" x="2318" y="2148" width="220" height="39"/>
<text class="nt" x="2428" y="2175">Code Block</text>
<rect class="cbg" x="2319" y="2189" width="193" height="27"/><text class="cd" x="2322" y="2209">"Masonry Work";</text>
<rect class="pb" x="2513" y="2189" width="24" height="27"/><use href="#cv2" x="2524" y="2202"/>
</g>
<g id="n-import-excel-2">
<rect class="nb" x="330" y="2285" width="332" height="221"/><rect class="nh" x="330" y="2285" width="332" height="40"/>
<text class="nt" x="496" y="2312">Data.ImportExcel</text>
<rect class="pb" x="331" y="2327" width="218" height="35"/><text class="pl" x="333" y="2351">file</text><use href="#cv" x="530" y="2344"/>
<rect class="pb" x="331" y="2363" width="218" height="35"/><text class="pl" x="333" y="2387">sheetName</text><use href="#cv" x="530" y="2380"/>
<rect class="pb" x="331" y="2400" width="218" height="35"/><text class="pl" x="333" y="2424">readAsStrings</text><use href="#cv" x="530" y="2417"/>
<rect class="pb" x="331" y="2437" width="218" height="35"/><text class="pl" x="333" y="2461">showExcel</text><use href="#cv" x="530" y="2454"/>
<rect class="pb" x="606" y="2327" width="55" height="35"/><text class="pr" x="658" y="2351">data</text>
<text class="au" x="658" y="2496">AUTO</text>
</g>
<g id="n-rest-2">
<rect class="nb" x="721" y="2286" width="227" height="109"/><rect class="nh" x="721" y="2286" width="227" height="37"/>
<text class="nt" x="834" y="2311">List.RestOfItems</text>
<rect class="pb" x="722" y="2327" width="120" height="34"/><text class="pl" x="727" y="2350">list</text><use href="#cv" x="824" y="2344"/>
<rect class="pb" x="897" y="2327" width="50" height="34"/><text class="pr" x="944" y="2350">rest</text>
<text class="au" x="944" y="2383">AUTO</text>
</g>
<g id="n-transpose-2">
<rect class="nb" x="999" y="2288" width="234" height="110"/><rect class="nh" x="999" y="2288" width="234" height="37"/>
<text class="nt" x="1116" y="2313">List.Transpose</text>
<rect class="pb" x="1000" y="2328" width="131" height="35"/><text class="pl" x="1005" y="2352">lists</text><use href="#cv" x="1110" y="2346"/>
<rect class="pb" x="1185" y="2328" width="47" height="35"/><text class="pr" x="1229" y="2352">lists</text>
<text class="au" x="1229" y="2386">AUTO</text>
</g>
<g id="n-code-dict-2">
<rect class="nb" x="1327" y="2294" width="180" height="176"/><rect class="nh" x="1327" y="2294" width="180" height="38"/>
<text class="nt" x="1417" y="2320">Code Block</text>
<rect class="pb" x="1328" y="2334" width="34" height="28"/><text class="pl" x="1331" y="2354" style="font-size:16px">list</text>
<rect class="cbg" x="1364" y="2334" width="119" height="106"/>
<text class="cd cm" x="1368" y="2354" style="font-size:20px">//level</text>
<text class="cd" x="1368" y="2380" style="font-size:20px;fill:#666">list[<tspan class="nm">0</tspan>];</text>
<text class="cd cm" x="1368" y="2405" style="font-size:20px">//date</text>
<text class="cd" x="1368" y="2431" style="font-size:20px;fill:#666">list[<tspan class="nm">1</tspan>];</text>
<rect class="pb" x="1484" y="2360" width="22" height="26"/><use href="#cv2" x="1495" y="2373"/>
<rect class="pb" x="1484" y="2409" width="22" height="26"/><use href="#cv2" x="1495" y="2422"/>
</g>
<g id="n-dict-2">
<rect class="nb" x="1583" y="2290" width="314" height="148"/><rect class="nh" x="1583" y="2290" width="314" height="38"/>
<text class="nt" x="1740" y="2316">Dictionary.ByKeysValues</text>
<rect class="pb" x="1584" y="2332" width="153" height="35"/><text class="pl" x="1589" y="2356">keys</text><use href="#cv" x="1720" y="2349"/>
<rect class="pb" x="1584" y="2368" width="153" height="35"/><text class="pl" x="1589" y="2392">values</text><use href="#cv" x="1720" y="2385"/>
<rect class="pb" x="1789" y="2332" width="107" height="35"/><text class="pr" x="1893" y="2356">dictionary</text>
<text class="au" x="1893" y="2426">AUTO</text>
</g>
<g id="n-watch">
<rect x="2622" y="2182" width="410" height="410" fill="#fff" stroke="#d9d9d9"/>
<text class="wm" x="2645" y="2207">List</text>
<line x1="2645" y1="2214" x2="2645" y2="2545" stroke="#bbb" stroke-width="1.5"/>
<rect x="3018" y="2184" width="5" height="30" fill="#ccc"/>
<g fill="#d9d9d9">
<rect x="2667" y="2212" width="26" height="22"/><rect x="2667" y="2242" width="26" height="22"/><rect x="2667" y="2272" width="26" height="22"/><rect x="2667" y="2302" width="26" height="22"/><rect x="2667" y="2332" width="26" height="22"/><rect x="2667" y="2362" width="26" height="22"/><rect x="2667" y="2392" width="26" height="22"/><rect x="2667" y="2422" width="26" height="22"/><rect x="2667" y="2452" width="26" height="22"/><rect x="2667" y="2482" width="26" height="22"/><rect x="2667" y="2512" width="34" height="22"/>
</g>
<g class="wm tc" style="font-size:12px;fill:#777">
<text x="2680" y="2228">0</text><text x="2680" y="2258">1</text><text x="2680" y="2288">2</text><text x="2680" y="2318">3</text><text x="2680" y="2348">4</text><text x="2680" y="2378">5</text><text x="2680" y="2408">6</text><text x="2680" y="2438">7</text><text x="2680" y="2468">8</text><text x="2680" y="2498">9</text><text x="2684" y="2528">10</text>
</g>
<g class="wm">
<text x="2701" y="2228">Wall</text><text x="2701" y="2258">Wall</text><text x="2701" y="2288">Wall</text><text x="2701" y="2318">Wall</text><text x="2701" y="2348">Wall</text><text x="2701" y="2378">Wall</text><text x="2701" y="2408">Wall</text><text x="2701" y="2438">Wall</text><text x="2701" y="2468">Wall</text><text x="2701" y="2498">Wall</text><text x="2709" y="2528">Wall</text>
</g>
<g fill="#c9f0c9">
<rect x="2762" y="2211" width="67" height="24"/><rect x="2762" y="2241" width="67" height="24"/><rect x="2762" y="2271" width="67" height="24"/><rect x="2762" y="2301" width="67" height="24"/><rect x="2762" y="2331" width="67" height="24"/><rect x="2762" y="2361" width="67" height="24"/><rect x="2762" y="2391" width="67" height="24"/><rect x="2762" y="2421" width="67" height="24"/><rect x="2762" y="2451" width="67" height="24"/><rect x="2762" y="2481" width="67" height="24"/><rect x="2773" y="2511" width="67" height="24"/>
</g>
<g class="wid">
<text x="2795" y="2229">188093</text><text x="2795" y="2259">188124</text><text x="2795" y="2289">188152</text><text x="2795" y="2319">188173</text><text x="2795" y="2349">188205</text><text x="2795" y="2379">188233</text><text x="2795" y="2409">188270</text><text x="2795" y="2439">188306</text><text x="2795" y="2469">188350</text><text x="2795" y="2499">188375</text><text x="2806" y="2529">188411</text>
</g>
<line x1="2622" y1="2553" x2="3032" y2="2553" stroke="#e0e0e0"/>
<text class="dl" x="2632" y="2578" style="font-size:11px;fill:#555">@L2 @L1</text>
<text class="dl" x="3022" y="2578" text-anchor="end" style="font-size:15px;font-style:italic;fill:#c0504d">{141}</text>
</g>
</svg>
